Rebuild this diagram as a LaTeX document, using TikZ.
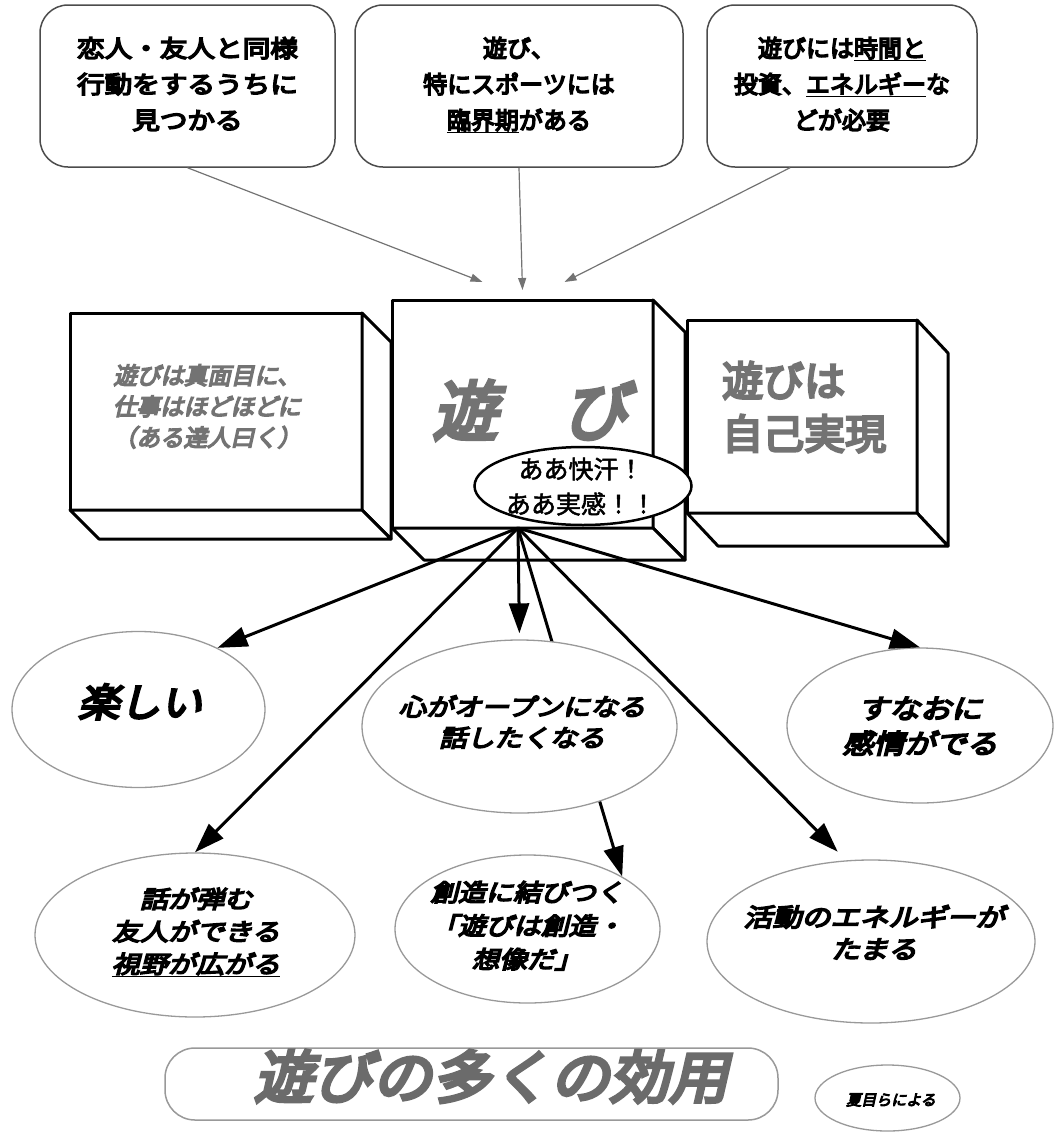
\documentclass[tikz,border=0pt]{standalone}
\usepackage{fontspec}
\usepackage{graphicx}
\usetikzlibrary{shapes.geometric,arrows.meta,calc}
\newfontfamily\jpb{Noto Sans CJK JP}[FakeBold=6]
\newfontfamily\jpbi{Noto Sans CJK JP}[FakeBold=6,FakeSlant=0.22]
\newfontfamily\jpm{Noto Sans CJK JP}[FakeBold=2]
\definecolor{tgrey}{gray}{0.45}
\newcommand\jlines[2]{\scalebox{#1}[1]{\begin{tabular}{@{}c@{}}#2\end{tabular}}}
\pgfdeclarelayer{front}
\pgfsetlayers{main,front}
\begin{document}
\begin{tikzpicture}[x=1pt,y=-1pt,
  callout/.style={draw=black!70, line width=1.5pt, rounded corners=28pt, fill=white, align=center, inner sep=0pt},
  face/.style={draw=black, line width=3pt, fill=white, line join=round, outer sep=0pt, inner sep=0pt},
  bubble/.style={ellipse, draw=black!40, line width=1.3pt, fill=white, inner sep=0pt},
  lab/.style={inner sep=0pt, align=center},
  greyarrow/.style={draw=black!55, line width=1.2pt, -{Triangle[length=12pt,width=8pt]}},
  blackarrow/.style={draw=black, line width=3pt, -{Triangle[length=30pt,width=20pt]}},
]
\useasboundingbox (0,0) rectangle (1055,1133);

% ---- top callouts
\node[callout, minimum width=295pt, minimum height=162pt, font=\jpb\fontsize{24}{36}\selectfont] (b1) at (187.5,86)
  {\jlines{1.15}{恋人・友人と同様\\行動をするうちに\\見つかる}};
\node[callout, minimum width=328pt, minimum height=162pt, font=\jpb\fontsize{24}{36}\selectfont] (b2) at (519,86)
  {\jlines{1}{遊び、\\特にスポーツには\\\underline{臨界期}がある}};
\node[callout, minimum width=270pt, minimum height=162pt, font=\jpb\fontsize{24}{36}\selectfont] (b3) at (842,86)
  {\jlines{1}{遊びには\underline{時間と}\\投資、\underline{エネルギー}な\\どが必要}};

% ---- left box
\node[face, minimum width=292pt, minimum height=197pt] (lb) at (216,411.5) {};
\draw[face] (lb.north east) -- ($(lb.north east)+(29,29)$) -- ($(lb.south east)+(29,29)$) -- (lb.south east) -- cycle;
\draw[face] (lb.south west) -- (lb.south east) -- ($(lb.south east)+(29,29)$) -- ($(lb.south west)+(29,29)$) -- cycle;
\node[lab, font=\jpbi\fontsize{23.5}{31}\selectfont, text=tgrey] (lbt) at (207,409)
  {\jlines{1}{遊びは真面目に、\\仕事はほどほどに\\（ある達人曰く）}};

% ---- right box
\node[face, minimum width=230pt, minimum height=193pt] (rb) at (802,416.5) {};
\draw[face] (rb.north east) -- ($(rb.north east)+(31,33)$) -- ($(rb.south east)+(31,33)$) -- (rb.south east) -- cycle;
\draw[face] (rb.south west) -- (rb.south east) -- ($(rb.south east)+(31,33)$) -- ($(rb.south west)+(31,33)$) -- cycle;
\node[lab, anchor=west, font=\jpb\fontsize{41}{53}\selectfont, text=tgrey] (rbt) at (722,412)
  {\begin{tabular}{@{}l@{}}遊びは\\自己実現\end{tabular}};

% ---- centre box
\node[face, minimum width=261pt, minimum height=228pt] (cb) at (522.5,414) {};
\draw[face] (cb.north east) -- ($(cb.north east)+(32,32)$) -- ($(cb.south east)+(32,32)$) -- (cb.south east) -- cycle;
\draw[face] (cb.south west) -- (cb.south east) -- ($(cb.south east)+(32,32)$) -- ($(cb.south west)+(32,32)$) -- cycle;
\node[lab, font=\jpbi\fontsize{65}{70}\selectfont, text=tgrey] (cbt) at (530,410) {遊　び};

\node[ellipse, draw=black, line width=2.5pt, fill=white, inner sep=0pt, minimum width=217pt, minimum height=78pt] (ah) at (583,486) {};
\node[lab, font=\jpm\fontsize{25}{35}\selectfont] (aht) at (581,489) {\jlines{1}{ああ快汗！\\ああ実感！！}};

% ---- grey arrows into centre box
\draw[greyarrow] (b1.south) -- ([xshift=-40pt,yshift=18pt]cb.north);
\draw[greyarrow] (b2.south) -- ([yshift=10pt]cb.north);
\draw[greyarrow] ([xshift=-52pt]b3.south) -- ([xshift=42pt,yshift=18pt]cb.north);

% ---- effect bubbles
\node[bubble, minimum width=253pt, minimum height=156pt] (e1) at (138.5,709.5) {};
\node[lab, font=\jpbi\fontsize{39}{45}\selectfont] (e1t) at (140,707) {\jlines{1.06}{楽しい}};

\begin{pgfonlayer}{front}
\node[bubble, minimum width=315pt, minimum height=173pt] (e2) at (519.5,726.5) {};
\node[lab, font=\jpbi\fontsize{24}{31}\selectfont] (e2t) at (522,725) {\jlines{1.15}{心がオープンになる\\話したくなる}};
\end{pgfonlayer}

\node[bubble, minimum width=266pt, minimum height=155pt] (e3) at (920,725.5) {};
\node[lab, font=\jpbi\fontsize{27}{35}\selectfont] (e3t) at (920,729) {\jlines{1.15}{すなおに\\感情がでる}};

\node[bubble, minimum width=320pt, minimum height=164pt] (e4) at (195,935) {};
\node[lab, font=\jpbi\fontsize{24}{32.5}\selectfont] (e4t) at (196,934) {\jlines{1.17}{話が弾む\\友人ができる\\\underline{視野が広がる}}};

\node[bubble, minimum width=265pt, minimum height=148pt] (e5) at (527.5,929) {};
\node[lab, font=\jpbi\fontsize{24}{33.5}\selectfont] (e5t) at (527,928) {\jlines{1.15}{創造に結びつく\\「遊びは創造・\\想像だ」}};

\node[bubble, minimum width=328pt, minimum height=163pt] (e6) at (871,941.5) {};
\node[lab, font=\jpbi\fontsize{25}{32}\selectfont] (e6t) at (874,936) {\jlines{1.16}{活動のエネルギーが\\たまる}};

% ---- arrows from the hub
\coordinate (hub) at (518,528);
\draw[blackarrow] (hub) -- (e1.38);
\draw[blackarrow] (hub) -- (e4.north);
\draw[blackarrow, shorten >=6pt] (hub) -- (e2.north);
\draw[blackarrow] (hub) -- (e5.29);
\draw[blackarrow, shorten >=12pt] (hub) -- (e6.107);
\draw[blackarrow] (hub) -- (e3.north);

% ---- title and source
\node[draw=black!40, line width=1.5pt, rounded corners=30pt, fill=white, minimum width=613pt, minimum height=72pt] (ttl) at (471.5,1084) {};
\node[lab, font=\jpbi\fontsize{57}{60}\selectfont, text=black!58] (ttlt) at (491,1083) {\jlines{1.04}{遊びの多くの効用}};

\node[bubble, minimum width=145pt, minimum height=66pt] (e7) at (887.5,1098) {};
\node[lab, font=\jpbi\fontsize{15}{18}\selectfont] (e7t) at (891,1100) {夏目らによる};
\end{tikzpicture}
\end{document}
